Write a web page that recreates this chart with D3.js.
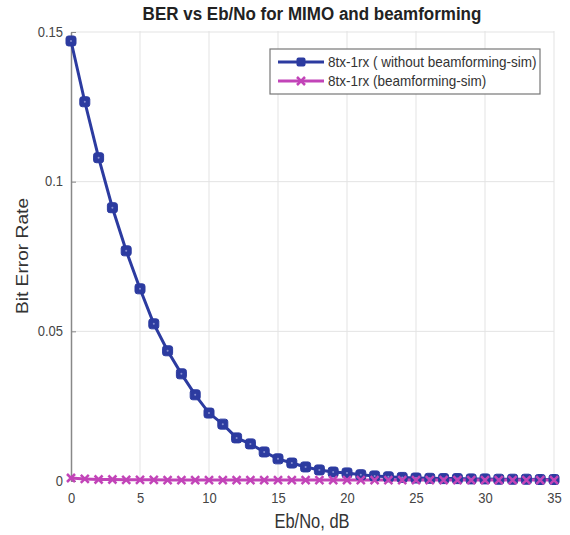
<!DOCTYPE html>
<html><head><meta charset="utf-8">
<script src="https://cdn.jsdelivr.net/npm/d3@7"></script>
<style>body{margin:0;background:#fff;} text{font-family:"Liberation Sans",Arial,sans-serif;}</style>
</head><body>
<svg id="c" width="570" height="535"></svg>
<script>
const snr = d3.range(0, 36);
const berNoBF = [0.147,0.1267,0.108,0.0913,0.0769,0.0642,0.0525,0.0435,0.0358,0.0288,
  0.0227,0.019,0.0144,0.0124,0.0097,0.0074,0.006,0.0047,0.0037,0.003,
  0.0027,0.0021,0.0017,0.0014,0.0012,0.001,0.0009,0.0008,0.0008,0.0007,
  0.0007,0.0006,0.0006,0.0006,0.0005,0.0005];
const berBF = [0.001,0.0007,0.0005,0.0005,0.0004,0.0004,0.0004,0.0003,0.0003,0.0003,
  0.0003,0.0003,0.0003,0.0003,0.0003,0.0003,0.0003,0.0003,0.0003,0.0003,
  0.0003,0.0003,0.0003,0.0003,0.0003,0.0003,0.0003,0.0003,0.0003,0.0003,
  0.0003,0.0003,0.0003,0.0003,0.0003,0.0003];
const xTicks = [0,5,10,15,20,25,30,35];
const yTicks = [0,0.05,0.1,0.15];
const yTickLabels = ["0","0.05","0.1","0.15"];
const seriesNames = ["8tx-1rx ( without beamforming-sim)","8tx-1rx (beamforming-sim)"];
const title = "BER vs Eb/No for MIMO and beamforming";

const svg = d3.select("#c");
const L=71, R=554, T=32, B=481;
const x = d3.scaleLinear().domain([0,35]).range([L,R]);
const y = d3.scaleLinear().domain([0,0.15]).range([B,T]);
const blue="#2c3ba0", pink="#c244b8";

function stretchText(sel, px, py, sx, sy, rot){
  sel.attr("x",0).attr("y",0)
    .attr("transform",`translate(${px},${py})${rot?` rotate(${rot})`:""} scale(${sx},${sy})`);
}

// grid
svg.append("g").selectAll("line").data(xTicks.slice(1)).join("line")
  .attr("x1",d=>x(d)).attr("x2",d=>x(d)).attr("y1",T-1).attr("y2",B)
  .attr("stroke","#e3e3e3").attr("stroke-width",1);
svg.append("g").selectAll("line").data(yTicks.slice(1)).join("line")
  .attr("x1",L).attr("x2",R).attr("y1",d=>y(d)).attr("y2",d=>y(d))
  .attr("stroke","#e3e3e3").attr("stroke-width",1);

// axes
const yAxis = d3.axisLeft(y).tickValues(yTicks).tickFormat((d,i)=>yTickLabels[i]).tickSizeInner(-5).tickSizeOuter(0).tickPadding(9);
const gy = svg.append("g").attr("transform",`translate(${L},0)`).call(yAxis);
gy.select(".domain").attr("stroke","#888").attr("stroke-width",1.5);
gy.selectAll(".tick line").attr("stroke","#888");
gy.selectAll("text").attr("fill","#444").style("font-size","13px")
  .each(function(){ d3.select(this).attr("dy",null).attr("dominant-baseline","middle"); stretchText(d3.select(this), -8, 0, 1, 1.18); });

const xAxis = d3.axisBottom(x).tickValues(xTicks).tickSize(0).tickPadding(10);
const gx = svg.append("g").attr("transform",`translate(0,${B})`).call(xAxis);
gx.select(".domain").remove();
gx.selectAll("text").attr("fill","#444").style("font-size","13px")
  .each(function(){ d3.select(this).attr("dy",null); stretchText(d3.select(this), 0, 22, 1, 1.18); });

// lines
const line = d3.line().x((d,i)=>x(snr[i])).y(d=>y(d));
svg.append("path").datum(berNoBF).attr("d",line).attr("fill","none").attr("stroke",blue).attr("stroke-width",3);
svg.append("path").datum(berBF).attr("d",line).attr("fill","none").attr("stroke",pink).attr("stroke-width",3);

// blue square markers
svg.append("g").selectAll("rect").data(berNoBF).join("rect")
  .attr("x",(d,i)=>x(snr[i])-5).attr("y",d=>y(d)-5).attr("width",10).attr("height",10)
  .attr("rx",2.5).attr("fill",blue).attr("stroke",blue).attr("stroke-width",1);
svg.append("g").selectAll("circle").data(berNoBF).join("circle")
  .attr("cx",(d,i)=>x(snr[i])).attr("cy",d=>y(d)).attr("r",1).attr("fill","#8890d0");

// pink x markers
const xm = svg.append("g");
berBF.forEach((d,i)=>{
  const cx=x(snr[i]), cy=y(d), s=4;
  xm.append("path").attr("d",`M${cx-s},${cy-s}L${cx+s},${cy+s}M${cx-s},${cy+s}L${cx+s},${cy-s}`)
    .attr("stroke",pink).attr("stroke-width",2.5).attr("fill","none");
});

// title
stretchText(svg.append("text").attr("text-anchor","middle")
  .style("font-size","17px").style("font-weight","bold").attr("fill","#222").text(title), 312, 20, 1, 1.12);
// axis labels
stretchText(svg.append("text").attr("text-anchor","middle")
  .style("font-size","16.5px").attr("fill","#333").text("Eb/No, dB"), 312, 528, 1, 1.18);
stretchText(svg.append("text").attr("text-anchor","middle")
  .style("font-size","16px").attr("fill","#333").text("Bit Error Rate"), 28, 256, 1.2, 1, -90);

// legend
const lg = svg.append("g");
lg.append("rect").attr("x",270).attr("y",49).attr("width",270).attr("height",45)
  .attr("fill","#fff").attr("stroke","#777").attr("stroke-width",1.2);
[blue,pink].forEach((c,i)=>{
  const ly = 62 + i*19;
  lg.append("line").attr("x1",278).attr("x2",324).attr("y1",ly).attr("y2",ly).attr("stroke",c).attr("stroke-width",3);
  if(i===0){
    lg.append("rect").attr("x",301-4.5).attr("y",ly-4.5).attr("width",9).attr("height",9).attr("rx",2).attr("fill",c);
  } else {
    lg.append("path").attr("d",`M${301-4},${ly-4}L${301+4},${ly+4}M${301-4},${ly+4}L${301+4},${ly-4}`)
      .attr("stroke",c).attr("stroke-width",2.5);
  }
  stretchText(lg.append("text").style("font-size","13.5px").attr("fill","#333").text(seriesNames[i]), 328, ly+5, 1, 1.12);
});
</script>
</body></html>
